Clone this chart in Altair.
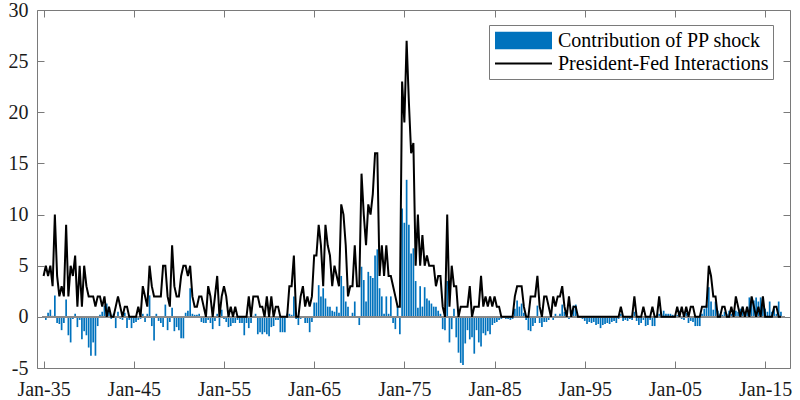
import altair as alt
import pandas as pd

BAR_LABEL = "Contribution of PP shock"
LINE_LABEL = "President-Fed Interactions"
START_YEAR = 1935  # first quarter: Jan-35, quarterly data

# President-Fed interactions (count per quarter)
pf_1935_1944 = [4, 5, 4, 5, 3, 10, 4, 2, 3, 2, 9, 2, 5, 4, 6, 1, 5, 1, 5, 3,
                2, 2, 2, 1, 2, 2, 1, 2, 0, 1, 0, 0, 1, 2, 1, 0, 1, 1, 0, 0]
pf_1945_1954 = [0, 0, 1, 0, 3, 2, 1, 5, 3, 2, 2, 2, 2, 5, 5, 2, 1, 7, 3, 2,
                2, 4, 5, 5, 4, 5, 2, 1, 1, 2, 2, 1, 0, 3, 2, 0, 2, 4, 0, 2]
pf_1955_1964 = [3, 2, 0, 1, 0, 1, 0, 0, 0, 0, 0, 2, 0, 2, 2, 2, 1, 1, 0, 2,
                0, 2, 0, 1, 1, 0, 0, 0, 0, 3, 3, 6, 0, 0, 2, 3, 1, 2, 1, 2]
pf_1965_1974 = [6, 6, 9, 7, 3, 9, 7, 6, 3, 5, 4, 3, 11, 10, 7, 2, 3, 3, 7, 3,
                3, 14, 10, 7, 11, 10, 12, 16, 16, 4, 7, 4, 7, 4, 4, 3, 2, 1, 1, 23]
pf_1975_1984 = [19, 27, 21, 16, 17, 5, 10, 5, 8, 5, 6, 5, 5, 5, 3, 4, 4, 1, 0, 10,
                1, 5, 3, 3, 0, 1, 1, 1, 1, 3, 0, 1, 1, 1, 4, 1, 2, 1, 2, 1]
pf_1985_1994 = [2, 1, 1, 0, 0, 0, 0, 0, 0, 2, 3, 3, 3, 1, 0, 0, 2, 2, 2, 4,
                1, 0, 2, 2, 1, 0, 2, 1, 2, 2, 3, 1, 0, 2, 0, 1, 1, 0, 0, 0]
pf_1995_2004 = [0, 0, 0, 0, 0, 0, 0, 0, 0, 0, 0, 0, 0, 0, 0, 0, 1, 0, 0, 0,
                0, 0, 2, 0, 0, 0, 1, 0, 0, 0, 1, 0, 0, 2, 0, 0, 0, 0, 0, 0]
pf_2005_2016 = [0, 1, 0, 1, 0, 1, 0, 1, 1, 0, 0, 0, 1, 1, 1, 5, 4, 2, 2, 0,
                0, 1, 1, 0, 0, 1, 0, 2, 1, 0, 1, 0, 1, 0, 2, 1, 0, 1, 0, 2,
                0, 0, 0, 0, 1, 1, 0, 0]

# Contribution of the PP shock (per quarter)
pp_1935_1944 = [0.0, -0.3, 0.4, 0.7, 0.1, 2.1, -0.6, -0.7, -1.3, -0.6, 1.7, -1.8,
                -2.5, -0.2, 0.3, -1.0, -0.3, -2.2, -1.4, -1.8, -3.0, -3.8, -2.5, -3.8,
                -0.9, 0.2, 0.5, 1.1, 1.3, 0.7, -0.2, 0.3, -1.1, 0.5, -0.2, -0.3,
                0.4, -1.1, -0.3, -1.1]
pp_1945_1954 = [-0.6, -0.5, -0.3, -0.2, 0.3, -0.5, 0.3, 2.1, -0.9, -2.3, 0.3, -0.4,
                -0.6, -1.0, 1.2, -1.3, -0.5, 0.9, -1.4, -1.0, -1.3, -2.1, -2.1, 0.4,
                0.6, 2.8, 0.3, 0.2, 0.2, 0.3, -0.5, -0.6, -0.6, -0.3, -0.6, -1.2,
                -0.4, 0.3, -0.9, 0.7]
pp_1955_1964 = [-0.2, -0.5, -1.0, -0.9, -0.6, -0.6, -0.3, -0.6, -0.6, -1.8, -0.6, -1.1,
                -0.6, 0.1, 0.3, -1.7, -1.5, -1.7, -1.5, -1.7, -1.9, -1.0, -0.9, -0.3,
                -0.3, -1.5, -1.5, -1.5, 0.3, 0.3, 0.2, 2.0, -0.2, -0.8, -0.2, 0.0,
                -0.6, -0.6, -1.5, -0.5]
pp_1965_1974 = [1.4, 1.4, 3.1, 2.0, 2.8, 1.8, 1.0, 1.0, 0.6, 0.5, 1.0, 0.4,
                4.0, 3.0, 1.5, 1.0, -0.1, 0.4, 1.5, 0.0, -0.8, 4.9, 3.6, 1.5,
                4.4, 4.0, 3.8, 6.0, 6.6, 2.8, 2.0, 0.3, 2.0, 0.3, 2.0, -0.6,
                -1.2, 1.0, -1.7, 10.6]
pp_1975_1984 = [9.2, 13.4, 9.0, 6.2, 6.7, 3.5, 0.9, 3.0, 1.0, 2.9, 1.8, 1.6,
                1.3, 1.0, 1.0, 0.6, 0.3, -1.2, -1.3, 3.5, -2.5, -1.2, 0.8, -2.0,
                -3.5, -4.5, -4.7, -2.6, -1.3, -2.2, -2.0, -3.6, -1.3, -2.5, -2.9, -1.6,
                -1.8, -1.4, -1.7, -0.8]
pp_1985_1994 = [-0.6, -0.5, -0.3, -0.2, -0.1, -0.2, -0.2, -0.3, -0.2, 0.8, 1.6, 1.0,
                1.3, 0.4, -0.3, -1.3, -1.4, -0.9, -0.6, 1.1, -0.6, -1.0, -0.5, -0.5,
                -0.3, 0.2, -0.3, 0.3, 0.1, 0.3, 1.2, 0.5, -0.1, -0.2, 0.2, 1.1,
                1.2, 0.0, -0.1, -0.2]
pp_1995_2004 = [-0.4, -0.7, -0.5, -0.6, -0.5, -0.8, -0.7, -1.1, -0.8, -0.7, -0.6, -0.7,
                -0.5, -0.4, -0.6, -0.2, 0.3, -0.4, -0.3, -0.4, -0.2, -0.3, 0.5, -0.4,
                -0.8, -0.6, -0.3, -0.9, -0.8, -0.3, -0.9, -0.9, 0.1, 0.3, 0.3, 0.6,
                0.3, 0.3, 0.3, 0.2]
pp_2005_2016 = [0.1, 0.2, 0.6, -0.2, -0.3, 0.4, -0.6, -0.4, -0.5, -0.9, -0.9, -0.9,
                0.3, 0.8, 1.2, 2.9, 1.5, 0.7, 1.5, 0.6, 0.3, 0.2, 0.5, 0.3,
                0.6, 0.3, 0.6, 0.6, 0.5, 0.8, 1.0, 0.5, 0.8, 1.9, 1.9, 1.6,
                1.9, 1.5, 1.9, 1.2, 0.8, 0.5, 1.5, 0.5, 0.8, 0.3, 1.5, 0.5]

x_tick_years = [1935, 1945, 1955, 1965, 1975, 1985, 1995, 2005, 2015]
y_tick_values = [-5, 0, 5, 10, 15, 20, 25, 30]
x_domain = [1934.825, 2017.2]
y_domain = [-5, 30]

pf = (pf_1935_1944 + pf_1945_1954 + pf_1955_1964 + pf_1965_1974 +
      pf_1975_1984 + pf_1985_1994 + pf_1995_2004 + pf_2005_2016)
pp = (pp_1935_1944 + pp_1945_1954 + pp_1955_1964 + pp_1965_1974 +
      pp_1975_1984 + pp_1985_1994 + pp_1995_2004 + pp_2005_2016)

df = pd.DataFrame({
    "t": [START_YEAR + i / 4 for i in range(len(pf))],
    "pf": pf,
    "pp": pp,
    "s_bar": BAR_LABEL,
    "s_line": LINE_LABEL,
})

W, H = 753, 358
FONT = "Liberation Serif"
AXC = "#7a7a7a"
TXT = "#1a1a1a"
BLUE = "#0072BD"

x_scale = alt.Scale(domain=x_domain, nice=False, zero=False)
y_scale = alt.Scale(domain=y_domain, nice=False, zero=False)

# main axes (labels + bottom/left box lines)
x_main = alt.Axis(orient="bottom", values=x_tick_years, title=None, grid=False,
                  ticks=False, tickSize=0, domain=True, domainColor=AXC, domainWidth=1,
                  labelExpr="'Jan-' + substring(format(datum.value, 'd'), 2, 4)",
                  labelFont=FONT, labelFontSize=20, labelColor=TXT, labelPadding=11,
                  labelFlush=False, labelOverlap=False)
y_main = alt.Axis(orient="left", values=y_tick_values, title=None, grid=False,
                  ticks=False, tickSize=0, domain=True, domainColor=AXC, domainWidth=1,
                  labelExpr="datum.value < 0 ? '-' + toString(-datum.value) : toString(datum.value)",
                  labelFont=FONT, labelFontSize=20, labelColor=TXT, labelPadding=9,
                  labelFlush=False, labelOverlap=False)
# inward ticks at bottom / left edges
x_in_bottom = alt.Axis(orient="top", offset=-H, values=x_tick_years, title=None, grid=False,
                       labels=False, domain=False, ticks=True, tickSize=7,
                       tickColor=AXC, tickWidth=1)
y_in_left = alt.Axis(orient="right", offset=-W, values=y_tick_values, title=None, grid=False,
                     labels=False, domain=False, ticks=True, tickSize=7,
                     tickColor=AXC, tickWidth=1)
# top / right box lines with inward ticks
x_top = alt.Axis(orient="bottom", offset=-H, values=x_tick_years, title=None, grid=False,
                 labels=False, domain=True, domainColor=AXC, domainWidth=1,
                 ticks=True, tickSize=7, tickColor=AXC, tickWidth=1)
y_right = alt.Axis(orient="left", offset=-W, values=y_tick_values, title=None, grid=False,
                   labels=False, domain=True, domainColor=AXC, domainWidth=1,
                   ticks=True, tickSize=7, tickColor=AXC, tickWidth=1)

legend_bar = alt.Legend(title=None, orient="none", legendX=452, legendY=15, direction="vertical",
                        symbolType="M-1,-0.31H1V0.31H-1Z", symbolSize=3249, symbolStrokeWidth=0,
                        clipHeight=23, rowPadding=0, padding=4, symbolOffset=2, labelOffset=6,
                        labelFont=FONT, labelFontSize=20, labelColor="black", labelLimit=400,
                        strokeColor=AXC, fillColor="white")
legend_line = alt.Legend(title=None, orient="none", legendX=452, legendY=38, direction="vertical",
                         symbolType="stroke", symbolSize=3249, symbolStrokeWidth=2,
                         clipHeight=23, rowPadding=0, padding=4, symbolOffset=1, labelOffset=6,
                         labelFont=FONT, labelFontSize=20, labelOpacity=0, labelLimit=400)

bars = alt.Chart(df).mark_bar(size=1.7).encode(
    x=alt.X("t:Q", scale=x_scale, axis=x_main),
    y=alt.Y("pp:Q", scale=y_scale, axis=y_main),
    y2=alt.datum(0),
    fill=alt.Fill("s_bar:N",
                  scale=alt.Scale(domain=[BAR_LABEL, LINE_LABEL], range=[BLUE, "transparent"]),
                  legend=legend_bar),
)

zero_line = alt.Chart(df).mark_rule(color="#8a8a8a", strokeWidth=1.5).encode(
    x=alt.XDatum(x_domain[0], type="quantitative", scale=x_scale, axis=x_top),
    x2=alt.datum(x_domain[1]),
    y=alt.YDatum(0, type="quantitative", scale=y_scale, axis=y_right),
)

line = alt.Chart(df).mark_line(strokeWidth=2).encode(
    x=alt.X("t:Q", scale=x_scale, axis=x_in_bottom),
    y=alt.Y("pf:Q", scale=y_scale, axis=y_in_left),
    stroke=alt.Stroke("s_line:N",
                      scale=alt.Scale(domain=[LINE_LABEL], range=["black"]),
                      legend=legend_line),
)

chart = alt.layer(bars, zero_line, line).resolve_axis(
    x="independent", y="independent"
).properties(
    width=W, height=H,
    autosize=alt.AutoSizeParams(type="none"),
    padding={"left": 37, "top": 10, "right": 10, "bottom": 32},
    background="white",
).configure_view(strokeWidth=0)

chart.save("out.html", embed_options={"renderer": "svg", "actions": False})
